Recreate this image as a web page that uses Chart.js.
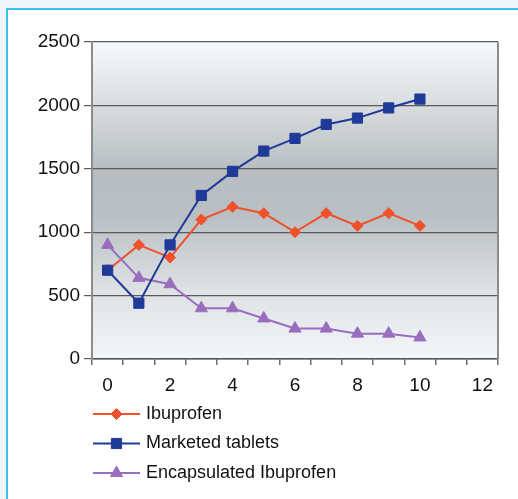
<!DOCTYPE html>
<html>
<head>
<meta charset="utf-8">
<script src="https://cdn.jsdelivr.net/npm/chart.js@4.4.0/dist/chart.umd.min.js"></script>
<style>
  html, body { margin: 0; padding: 0; }
  body { width: 518px; height: 499px; background: #eef6fc; position: relative; overflow: hidden; }
  .frame {
    position: absolute; left: 6px; top: 8px; right: 0; bottom: 0;
    background: #ffffff;
    border-left: 2px solid #3fc1f0;
    border-top: 2px solid #3fc1f0;
  }
  #chart { position: absolute; left: 0; top: 0; }
</style>
</head>
<body>
<div class="frame"></div>
<canvas id="chart" width="518" height="499"></canvas>
<script>
// x categories (0..12), values read per time point
const timePoints = ['0', '1', '2', '3', '4', '5', '6', '7', '8', '9', '10', '11', '12'];
const ibuprofen = [700, 900, 800, 1100, 1200, 1150, 1000, 1150, 1050, 1150, 1050, null, null];
const marketedTablets = [700, 440, 900, 1290, 1480, 1640, 1740, 1850, 1900, 1980, 2050, null, null];
const encapsulatedIbuprofen = [900, 640, 590, 400, 400, 320, 240, 240, 200, 200, 170, null, null];
const yTicks = [0, 500, 1000, 1500, 2000, 2500];

const FONT = '"Liberation Sans", Arial, sans-serif';

// grey gradient behind the plot + right edge of the frame
const plotBackground = {
  id: 'plotBackground',
  beforeDraw(chart) {
    const { ctx, chartArea: a } = chart;
    const g = ctx.createLinearGradient(0, a.top, 0, a.bottom);
    g.addColorStop(0, '#f7fafc');
    g.addColorStop(0.22, '#d6dadd');
    g.addColorStop(0.4, '#b7bdc1');
    g.addColorStop(0.55, '#b9bfc3');
    g.addColorStop(0.78, '#dde1e4');
    g.addColorStop(1, '#f3f7fa');
    ctx.save();
    ctx.fillStyle = g;
    ctx.fillRect(a.left, a.top, a.right - a.left, a.bottom - a.top);
    ctx.restore();
  },
  afterDatasetsDraw(chart) {
    const { ctx, chartArea: a } = chart;
    ctx.save();
    ctx.strokeStyle = '#8c8c8c';
    ctx.lineWidth = 2;
    ctx.beginPath();
    ctx.moveTo(a.right, a.top);
    ctx.lineTo(a.right, a.bottom);
    ctx.stroke();
    ctx.restore();
  }
};

// stacked legend under the axis: line sample with marker, then label
const stackedLegend = {
  id: 'stackedLegend',
  afterDraw(chart) {
    const { ctx, chartArea: a } = chart;
    const x0 = a.left + 1, x1 = a.left + 48;
    ctx.save();
    ctx.font = '18px ' + FONT;
    ctx.textBaseline = 'middle';
    chart.data.datasets.forEach((ds, i) => {
      const y = a.bottom + 55 + i * 29.5;
      ctx.strokeStyle = ds.borderColor;
      ctx.lineWidth = 2;
      ctx.beginPath();
      ctx.moveTo(x0, y);
      ctx.lineTo(x1, y);
      ctx.stroke();
      ctx.fillStyle = ds.pointBackgroundColor;
      ctx.strokeStyle = ds.pointBorderColor;
      ctx.lineWidth = 1;
      Chart.helpers.drawPoint(ctx, {
        pointStyle: ds.pointStyle,
        radius: ds.pointRadius,
        rotation: 0,
        borderWidth: 1
      }, (x0 + x1) / 2, y);
      ctx.fillStyle = '#111111';
      ctx.fillText(ds.label, x1 + 6, y);
    });
    ctx.restore();
  }
};

function series(label, data, color, style, radius, order) {
  return {
    label: label,
    data: data,
    order: order,
    borderColor: color,
    backgroundColor: color,
    pointBackgroundColor: color,
    pointBorderColor: color,
    pointStyle: style,
    pointRadius: radius,
    pointHoverRadius: radius,
    pointBorderWidth: 1,
    borderWidth: 2,
    tension: 0,
    spanGaps: false
  };
}

new Chart(document.getElementById('chart'), {
  type: 'line',
  data: {
    labels: timePoints,
    datasets: [
      series('Ibuprofen', ibuprofen, '#f0502a', 'rectRot', 5.5, 2),
      series('Marketed tablets', marketedTablets, '#1f3a98', 'rect', 7.2, 0),
      series('Encapsulated Ibuprofen', encapsulatedIbuprofen, '#9a6dbf', 'triangle', 7, 1)
    ]
  },
  options: {
    responsive: false,
    animation: false,
    events: [],
    layout: { padding: { left: 32, right: 20, top: 42, bottom: 100 } },
    plugins: { legend: { display: false }, tooltip: { enabled: false } },
    scales: {
      x: {
        type: 'category',
        offset: true,
        afterFit(scale) { scale.height = 40; },
        grid: {
          offset: true,
          drawOnChartArea: false,
          drawTicks: true,
          tickLength: 6,
          color: '#6e6e6e',
          lineWidth: 1.5
        },
        border: { display: true, color: '#555555', width: 1.5 },
        ticks: {
          autoSkip: false,
          maxRotation: 0,
          padding: 9,
          color: '#111111',
          font: { family: FONT, size: 19 },
          callback(val, i) { return i % 2 === 0 ? this.getLabelForValue(val) : ''; }
        }
      },
      y: {
        min: 0,
        max: 2500,
        afterFit(scale) { scale.width = 60; },
        afterBuildTicks(scale) { scale.ticks = yTicks.map(v => ({ value: v })); },
        grid: {
          color: '#5a5a5a',
          lineWidth: 1.2,
          tickLength: 8,
          drawTicks: true
        },
        border: { display: true, color: '#8c8c8c', width: 2 },
        ticks: {
          padding: 4,
          color: '#111111',
          font: { family: FONT, size: 19 },
          callback(val) { return String(val); }
        }
      }
    }
  },
  plugins: [plotBackground, stackedLegend]
});
</script>
</body>
</html>
